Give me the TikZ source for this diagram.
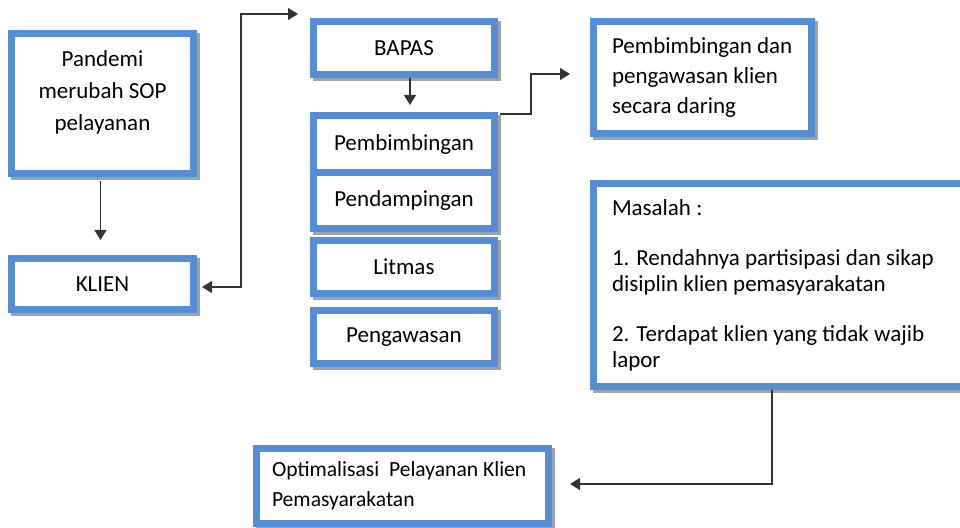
\documentclass[tikz,border=0pt]{standalone}
\usepackage{fontspec}
\setmainfont{Carlito}
\usetikzlibrary{arrows.meta}
\definecolor{boxblue}{RGB}{85,142,213}
\definecolor{boxshadow}{RGB}{155,163,172}
\tikzset{
  panel/.style 2 args={draw=boxblue, line width=3.5pt, fill=white, inner sep=0pt,
    minimum width=#1, minimum height=#2, font=\fontsize{11.5}{13}\selectfont,
    preaction={draw=boxshadow, line width=3.5pt, transform canvas={shift={(1.5pt,-1.5pt)}}}},
  leftpanel/.style={align=flush left, inner xsep=0pt,
    execute at begin node={\leftskip=#1\spaceskip=0pt\xspaceskip=0pt}},
  link/.style={draw=black!80, line width=0.6pt, -{Triangle[length=5pt,width=6pt]}},
}
\begin{document}
\begin{tikzpicture}[x=0.5pt, y=-0.5pt]
\useasboundingbox (0,0) rectangle (960,528);
% left column
\node[panel={91pt}{70pt}, align=center, font=\fontsize{11.5}{16}\selectfont] (pandemi) at (102.5,103.5) {Pandemi\\merubah SOP\\pelayanan\\[-3pt]\mbox{}};
\node[panel={91pt}{25.5pt}] (klien) at (102.5,284) {KLIEN};
% bapas column
\node[panel={90.5pt}{26.5pt}] (bapas) at (404,48) {BAPAS};
\node[panel={90.5pt}{28.5pt}] (pembimbingan) at (404,144) {Pembimbingan};
\node[panel={90.5pt}{28pt}] (pendampingan) at (404,200.5) {Pendampingan};
\node[panel={90.5pt}{26.5pt}] (litmas) at (404,267) {Litmas};
\node[panel={90.5pt}{26.5pt}] (pengawasan) at (404,337) {Pengawasan};
% right column
\node[panel={109pt}{56pt}, leftpanel=9.25pt, text width=109pt, font=\fontsize{11.5}{15}\selectfont] (daring) at (702.5,77.5) {Pembimbingan dan\\pengawasan klien\\secara daring};
\node[panel={190pt}{101.5pt}, leftpanel=9.25pt, text width=190pt] (masalah) at (783.5,285) {Masalah :\\[12pt]1. Rendahnya partisipasi dan sikap\\disiplin klien pemasyarakatan\\[12pt]2. Terdapat klien yang tidak wajib\\lapor};
\node[panel={146pt}{37.5pt}, leftpanel=7.75pt, text width=146pt, font=\fontsize{10.8}{15}\selectfont] (optimalisasi) at (402.5,486) {Optimalisasi~ Pelayanan Klien\\Pemasyarakatan};
\coordinate (bapasin) at (298,14);
% connectors
\draw[link, shorten <=2pt, shorten >=7.5pt] ([xshift=-1pt]pandemi.south) -- ([xshift=-1pt]klien.north);
\draw[link, {Triangle[length=5pt,width=6pt]}-{Triangle[length=5pt,width=6pt]}, shorten <=2.5pt] ([yshift=-1.5pt]klien.east) -- ++(44,0) |- (bapasin);
\draw[link, shorten >=3.5pt] ([xshift=3pt]bapas.south) -- ([xshift=3pt]pembimbingan.north);
\draw[link, shorten >=10pt] ([xshift=1pt,yshift=-1pt]pembimbingan.north east) -- ++(31,0) |- ([yshift=1.75pt]daring.west);
\draw[link, shorten >=9pt] ([xshift=-5.75pt]masalah.south) |- ([yshift=1pt]optimalisasi.east);
\end{tikzpicture}
\end{document}
